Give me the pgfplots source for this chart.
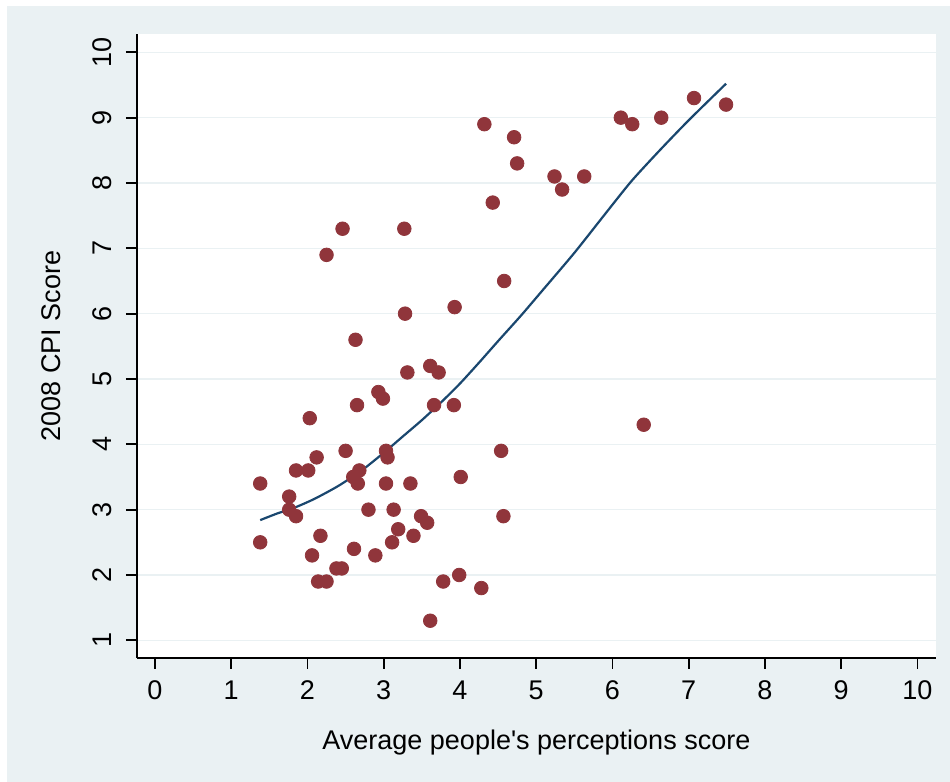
\documentclass[border=0pt]{standalone}
\usepackage{fontspec}
\setmainfont{Liberation Sans}
\usepackage{pgfplots}
\pgfplotsset{compat=1.18}

\definecolor{stbg}{HTML}{EAF1F3}
\definecolor{stmaroon}{HTML}{90353B}
\definecolor{stnavy}{HTML}{1A476F}

\begin{document}
\fontsize{13.5}{16}\selectfont
\begin{tikzpicture}
% page and graph region
\fill[white] (-68.5pt,-62.15pt) rectangle (406.5pt,328.85pt);
\fill[stbg] (-65pt,-62.15pt) rectangle (406.5pt,325.85pt);
\begin{axis}[
	scale only axis,
	width=399.4pt, height=311.7pt,
	xmin=-0.236, xmax=10.241,
	ymin=0.734, ymax=10.276,
	axis x line*=bottom, axis y line*=left,
	axis line style={line width=1pt, black},
	axis background/.style={fill=white},
	xtick={0,1,...,10}, ytick={1,2,...,10},
	tick align=outside, major tick length=5.5pt,
	tick style={line width=0.9pt, black},
	ymajorgrids, grid style={stbg, line width=0.7pt},
	/pgf/number format/assume math mode=true,
	xticklabel style={anchor=north, inner sep=0pt},
	yticklabel style={rotate=90, anchor=south, inner sep=0pt},
	xticklabel shift=6pt, yticklabel shift=7pt,
	every axis x label/.style={at={(axis description cs:0.5,-0.1465)}, anchor=base},
	every axis y label/.style={at={(axis description cs:-0.1068,0.5)}, rotate=90, anchor=center},
	xlabel={Average people\textquotesingle s perceptions score},
	ylabel={2008 CPI Score},
	clip=false,
]
\addplot[only marks, mark=*, mark size=3.4pt, color=stmaroon]
	coordinates {
		(1.38,3.4)(1.38,2.5)(1.76,3.2)(1.76,3.0)(1.85,2.9)(1.85,3.6)(2.01,3.6)
		(2.03,4.4)(2.12,3.8)(2.17,2.6)(2.06,2.3)(2.14,1.9)(2.25,1.9)(2.38,2.1)
		(2.45,2.1)(2.50,3.9)(2.61,2.4)(2.60,3.5)(2.68,3.6)(2.66,3.4)(2.80,3.0)
		(2.89,2.3)(2.93,4.8)(2.99,4.7)(2.65,4.6)(2.63,5.6)(3.03,3.9)(3.05,3.8)
		(3.03,3.4)(3.11,2.5)(3.13,3.0)(3.19,2.7)(3.35,3.4)(3.39,2.6)(3.49,2.9)
		(3.57,2.8)(3.31,5.1)(3.28,6.0)(3.27,7.3)(2.46,7.3)(2.25,6.9)(3.61,5.2)
		(3.72,5.1)(3.66,4.6)(3.92,4.6)(3.93,6.1)(3.78,1.9)(3.99,2.0)(4.01,3.5)
		(3.61,1.3)(4.28,1.8)(4.54,3.9)(4.57,2.9)(4.58,6.5)(4.32,8.9)(4.43,7.7)
		(4.71,8.7)(4.75,8.3)(5.24,8.1)(5.34,7.9)(5.63,8.1)(6.11,9.0)(6.26,8.9)
		(6.64,9.0)(7.07,9.3)(7.49,9.2)(6.41,4.3)
	};
\addplot[smooth, tension=0.4, color=stnavy, line width=1.1pt]
	coordinates {
		(1.38,2.84)(1.6,2.94)(1.85,3.04)(2.1,3.17)(2.4,3.36)(2.7,3.59)(3.0,3.87)
		(3.25,4.12)(3.5,4.37)(3.75,4.64)(4.0,4.93)(4.25,5.25)(4.5,5.58)(4.8,5.97)
		(5.1,6.38)(5.5,6.93)(5.9,7.52)(6.25,8.03)(6.62,8.50)(7.0,8.96)(7.49,9.52)
	};
\end{axis}
\end{tikzpicture}
\end{document}
